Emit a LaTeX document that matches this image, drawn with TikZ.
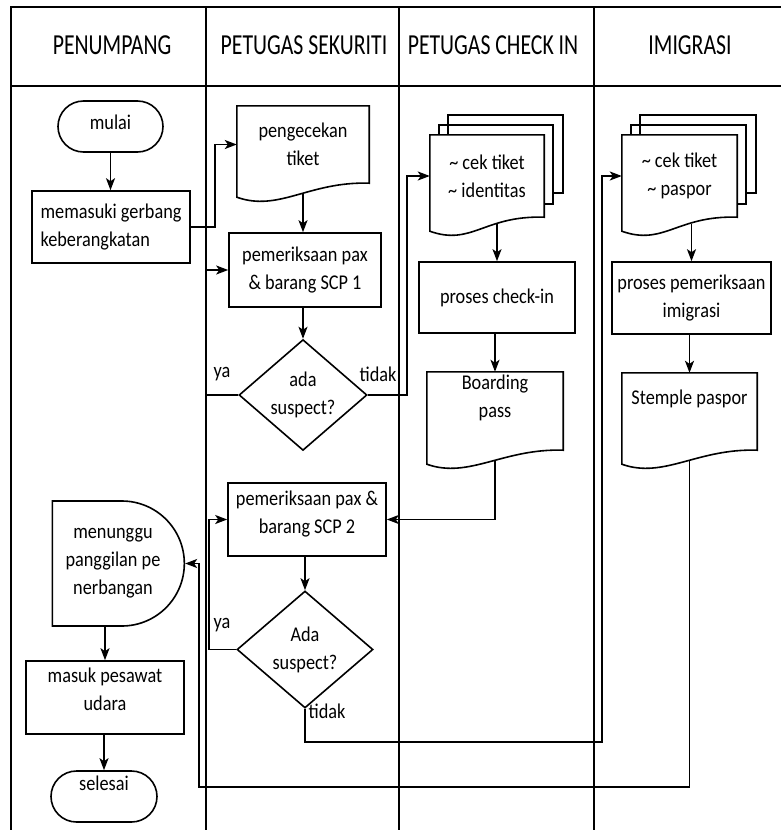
\documentclass[tikz,border=0pt]{standalone}
\usepackage{fontspec}
\setmainfont[FakeStretch=0.87]{Carlito}
\newfontfamily\headfont[FakeStretch=0.75]{Carlito}
\usetikzlibrary{arrows.meta, shapes.geometric, shapes.misc, calc}

% document shape: flat top, wavy bottom
\newcommand{\docshape}[1]{%
    \draw[line] (#1.north west) -- (#1.north east) -- (#1.south east)
        .. controls +(-60,-2) and +(42,15) .. ($(#1.south west)+(0,14)$) -- cycle;
}
% stack of documents
\newcommand{\docstack}[1]{%
    \draw[line] ($(#1.north west)+(18,0)$) -- ++(0,-20) -| ($(#1.south east)+(19,-24)$) -- ++(-10,0);
    \draw[line] ($(#1.north west)+(9,0)$) -- ++(0,-10) -| ($(#1.south east)+(9,-13)$) -- ++(-9,0);
    \docshape{#1}
}

\begin{document}
\begin{tikzpicture}[x=1pt, y=-1pt,
    every node/.style={font=\fontsize{21}{28}\selectfont, align=center, inner sep=1pt},
    line/.style={line width=1.6pt},
    lane/.style={line width=2pt},
    arr/.style={line width=1.6pt, -{Stealth[length=12pt, width=9pt, inset=3pt]}},
    head/.style={font=\headfont\fontsize{29}{34}\selectfont},
    proc/.style={draw, line width=1.6pt, rectangle},
    doc/.style={rectangle},
    dec/.style={draw, line width=1.6pt, diamond, inner sep=0pt},
    term/.style={draw, line width=1.6pt, rounded rectangle},
    delay/.style={draw, line width=1.6pt, rounded rectangle, rounded rectangle left arc=none}
]
    \useasboundingbox (0,0) rectangle (781,830);
    % Lanes
    \draw[lane] (11,830) -- (11,7) -- (781,7);
    \draw[lane] (11,86) -- (781,86);
    \foreach \x in {206,399,594}
    {
        \draw[lane] (\x,7) -- (\x,830);
    }
    % Headers
    \node[head] (hPenumpang) at (112,45) {PENUMPANG};
    \node[head] (hSekuriti) at (304,45) {PETUGAS SEKURITI};
    \node[head] (hCheckin) at (493,45) {PETUGAS CHECK IN};
    \node[head] (hImigrasi) at (690,45) {IMIGRASI};

    % Penumpang
    \node[term, minimum width=107, minimum height=51, text depth=8] (mulai) at (110.5,126.5) {mulai};
    \node[proc, align=left, minimum width=158, minimum height=72] (memasuki) at (111,227) {memasuki gerbang\\keberangkatan};
    \node[delay, minimum width=134, minimum height=125] (tunggu) at (113,563.5) {menunggu\\panggilan pe\\nerbangan};
    \node[proc, minimum width=158, minimum height=73, text depth=16] (masuk) at (105,697.5) {masuk pesawat\\udara};
    \node[term, minimum width=108, minimum height=51, text depth=27] (selesai) at (104,796.5) {selesai};

    % Petugas sekuriti
    \node[doc, minimum width=132, minimum height=77] (tiket) at (303,144.5) {pengecekan\\tiket};
    \docshape{tiket}
    \node[proc, minimum width=152, minimum height=74] (scp1) at (305,270) {pemeriksaan pax\\\& barang SCP 1};
    \node[dec, minimum width=128, minimum height=106] (ada1) at (303,395) {ada\\suspect?};
    \node[proc, minimum width=158, minimum height=73, text depth=15] (scp2) at (307,519.5) {pemeriksaan pax \&\\barang SCP 2};
    \node[dec, minimum width=136, minimum height=117] (ada2) at (305,649.5) {Ada\\suspect?};

    % Petugas check in
    \node[doc, minimum width=114, minimum height=82] (ident) at (487,176) {\textasciitilde{} cek tiket\\\textasciitilde{} identitas};
    \docstack{ident}
    \node[proc, minimum width=156, minimum height=71] (checkin) at (497,297.5) {proses check-in};
    \node[doc, minimum width=136, minimum height=78, text depth=30] (boarding) at (495,411) {Boarding\\pass};
    \docshape{boarding}

    % Imigrasi
    \node[doc, minimum width=115, minimum height=82] (paspor) at (679.5,176) {\textasciitilde{} cek tiket\\\textasciitilde{} paspor};
    \docstack{paspor}
    \node[proc, minimum width=159, minimum height=72] (imigrasi) at (691.5,298) {proses pemeriksaan\\imigrasi};
    \node[doc, minimum width=135, minimum height=77, text depth=29] (stemple) at (689.5,411.5) {Stemple paspor};
    \docshape{stemple}

    % Labels
    \node (ya1) at (222,374) {ya};
    \node (tidak1) at (378,374) {tidak};
    \node (ya2) at (222,625) {ya};
    \node (tidak2) at (327,711) {tidak};

    % Bends
    \coordinate (lewat) at (602,742);
    \coordinate (balik) at (199,787);

    % Arrows
    \draw[arr] (mulai.south) -- (mulai.south |- memasuki.north);
    \draw[arr] (memasuki.east) -- ++(24,0) |- (tiket.west);
    \draw[arr] ($(tiket.south)+(0,11)$) -- (tiket.south |- scp1.north);
    \draw[arr] (scp1.south -| ada1.north) -- (ada1.north);
    \draw[arr] (ada1.west) -- ++(-32,0) |- (scp1.west);
    \draw[arr] (ada1.east) -- ++(39,0) |- (ident.west);
    \draw[arr] ($(checkin.north |- ident.south)+(0,7)$) -- (checkin.north);
    \draw[arr] (checkin.south -| boarding.north) -- (boarding.north);
    \draw[arr] ($(boarding.south)+(0,11)$) |- (scp2.east);
    \draw[arr] (scp2.south -| ada2.north) -- (ada2.north);
    \draw[arr] (ada2.west) -- ++(-27,0) |- (scp2.west);
    \draw[arr] (ada2.south) |- (lewat) |- (paspor.west);
    \draw[arr] ($(imigrasi.north |- paspor.south)+(0,7)$) -- (imigrasi.north);
    \draw[arr] (imigrasi.south -| stemple.north) -- (stemple.north);
    \draw[arr] ($(stemple.south)+(0,11)$) |- (balik) |- (tunggu.east);
    \draw[arr] (tunggu.south -| masuk.north) -- (masuk.north);
    \draw[arr] (masuk.south -| selesai.north) -- (selesai.north);
\end{tikzpicture}
\end{document}
